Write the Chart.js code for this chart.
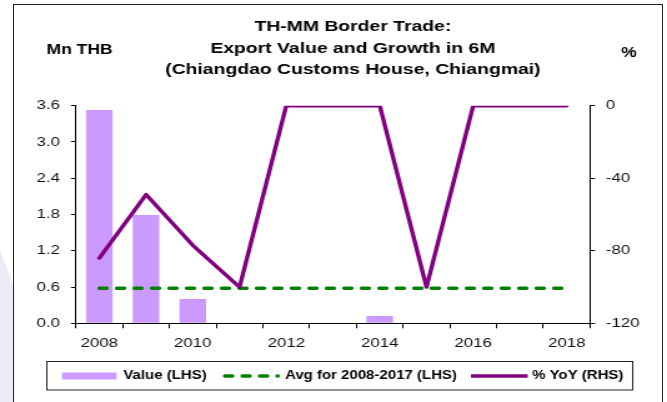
<!DOCTYPE html>
<html>
<head>
<meta charset="utf-8">
<script src="https://cdn.jsdelivr.net/npm/chart.js@4/dist/chart.umd.min.js"></script>
<style>
  html, body { margin: 0; padding: 0; background: #fff; overflow: hidden; }
  #page { position: relative; width: 667px; height: 402px; overflow: hidden; background: #fff; }
  #shade { position: absolute; left: 0; top: 0; width: 14px; height: 402px; background: #ebebf5;
           clip-path: polygon(0 250px, 14px 288px, 14px 402px, 0 402px); }
  #frame { position: absolute; left: 13px; top: 4px; width: 648px; height: 420px;
           border: 1px solid #222; background: #fff; }
  /* the chart is laid out on a narrower canvas and widened to the page */
  #wrap { position: absolute; left: 0; top: 0; width: 534px; height: 402px;
          transform: scaleX(1.2491); transform-origin: 0 0; }
</style>
</head>
<body>
<div id="page">
  <div id="shade"></div>
  <div id="frame"></div>
  <div id="wrap"><canvas id="c" width="534" height="402"></canvas></div>
</div>
<script>
const FONT = '"Liberation Sans", Arial, Helvetica, sans-serif';

// ---- data ----
const years = ['2008', '2009', '2010', '2011', '2012', '2013', '2014', '2015', '2016', '2017', '2018'];
const exportValue = [3.53, 1.79, 0.40, 0, 0, 0, 0.12, 0, 0, 0, 0];          // Mn THB
const avgValue    = [0.58, 0.58, 0.58, 0.58, 0.58, 0.58, 0.58, 0.58, 0.58, 0.58, 0.58];
const yoyGrowth   = [-84, -49, -77, -100, 0, 0, 0, -100, 0, 0, 0];            // %
const leftTicks   = [0, 0.6, 1.2, 1.8, 2.4, 3.0, 3.6];
const rightTicks  = [-120, -80, -40, 0];

const titleLines = ['TH-MM Border Trade:', 'Export Value and Growth in 6M', '(Chiangdao Customs House, Chiangmai)'];
const leftUnit = 'Mn THB';
const rightUnit = '%';

// title, unit captions and the boxed legend
const decorations = {
  id: 'decorations',
  afterDraw(chart) {
    const ctx = chart.ctx;
    ctx.save();
    ctx.fillStyle = '#000';
    ctx.textBaseline = 'middle';

    ctx.textAlign = 'center';
    ctx.font = 'bold 15.5px ' + FONT;
    const titleY = [27, 48.5, 70];
    titleLines.forEach((t, i) => ctx.fillText(t, 282.5, titleY[i]));

    ctx.font = 'bold 14px ' + FONT;
    ctx.fillText(leftUnit, 63.7, 50.5);
    ctx.fillText(rightUnit, 503.4, 53.5);

    // legend box
    ctx.strokeStyle = '#222';
    ctx.lineWidth = 1;
    ctx.strokeRect(37.5, 361.5, 469, 28.5);

    const ly = 376;
    const ds = chart.data.datasets;
    ctx.textAlign = 'left';
    ctx.font = 'bold 12px ' + FONT;

    // bar swatch
    ctx.fillStyle = ds[0].backgroundColor;
    ctx.fillRect(49.6, ly - 3.5, 43.8, 7);
    ctx.fillStyle = '#000';
    ctx.fillText(ds[0].label, 98.7, ly);

    // dashed average swatch
    ctx.beginPath();
    ctx.strokeStyle = ds[1].borderColor;
    ctx.lineWidth = ds[1].borderWidth;
    ctx.lineCap = 'round';
    ctx.setLineDash(ds[1].borderDash);
    ctx.moveTo(180, ly);
    ctx.lineTo(222.5, ly);
    ctx.stroke();
    ctx.setLineDash([]);
    ctx.fillText(ds[1].label, 228.2, ly);

    // growth line swatch
    ctx.beginPath();
    ctx.strokeStyle = ds[2].borderColor;
    ctx.lineWidth = ds[2].borderWidth;
    ctx.lineCap = 'butt';
    ctx.moveTo(377, ly);
    ctx.lineTo(422.5, ly);
    ctx.stroke();
    ctx.fillText(ds[2].label, 426, ly);

    ctx.restore();
  }
};

const tickFont = { family: FONT, size: 13.5 };

new Chart(document.getElementById('c'), {
  data: {
    labels: years,
    datasets: [
      {
        type: 'bar', label: 'Value (LHS)', data: exportValue, yAxisID: 'y',
        backgroundColor: '#CC99FF', barPercentage: 0.57, categoryPercentage: 1, order: 3
      },
      {
        type: 'line', label: 'Avg for 2008-2017 (LHS)', data: avgValue, yAxisID: 'y',
        borderColor: '#008000', borderWidth: 3.3, borderDash: [6, 8], borderCapStyle: 'round',
        pointRadius: 0, fill: false, order: 2
      },
      {
        type: 'line', label: '% YoY (RHS)', data: yoyGrowth, yAxisID: 'y1',
        borderColor: '#800080', borderWidth: 3.4, borderCapStyle: 'round', borderJoinStyle: 'round',
        pointRadius: 0, fill: false, tension: 0, order: 1
      }
    ]
  },
  options: {
    responsive: false,
    animation: false,
    layout: { padding: { left: 0, right: 21.6, top: 105.7, bottom: 48.7 } },
    plugins: { legend: { display: false }, tooltip: { enabled: false }, title: { display: false } },
    scales: {
      x: {
        type: 'category', offset: true,
        grid: { display: true, offset: true, drawOnChartArea: false, drawTicks: true, tickLength: 5, color: '#000', tickColor: '#000' },
        border: { display: true, color: '#000', width: 1 },
        ticks: { autoSkip: false, maxRotation: 0, minRotation: 0, padding: 7, color: '#111', font: tickFont,
                 callback: (v, i) => (i % 2 === 0 ? years[i] : '') },
        afterFit: s => { s.height = 30; }
      },
      y: {
        position: 'left', min: leftTicks[0], max: leftTicks[leftTicks.length - 1],
        grid: { drawOnChartArea: false, drawTicks: true, tickLength: 4, color: '#000', tickColor: '#000' },
        border: { display: true, color: '#000', width: 1 },
        ticks: { padding: 8.8, color: '#111', font: tickFont, callback: v => Number(v).toFixed(1) },
        afterBuildTicks: s => { s.ticks = leftTicks.map(v => ({ value: v })); },
        afterFit: s => { s.width = 60.8; }
      },
      y1: {
        position: 'right', min: rightTicks[0], max: rightTicks[rightTicks.length - 1],
        grid: { drawOnChartArea: false, drawTicks: true, tickLength: 4, color: '#000', tickColor: '#000' },
        border: { display: true, color: '#000', width: 1 },
        ticks: { padding: 8.6, color: '#111', font: tickFont, callback: v => String(v) },
        afterBuildTicks: s => { s.ticks = rightTicks.map(v => ({ value: v })); },
        afterFit: s => { s.width = 40; }
      }
    }
  },
  plugins: [decorations]
});
</script>
</body>
</html>
